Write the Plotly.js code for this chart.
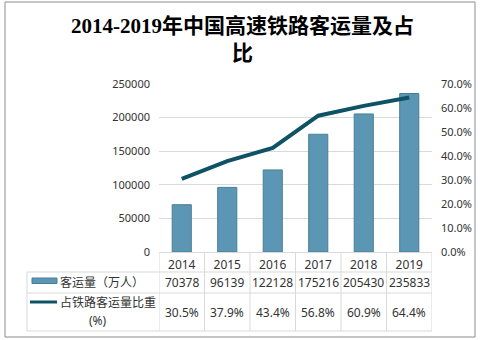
<!DOCTYPE html>
<html>
<head>
<meta charset="utf-8">
<script src="https://cdn.plot.ly/plotly-3.0.1.min.js"></script>
<style>html,body{margin:0;padding:0;background:#fff;}#chart{width:485px;height:340px;}</style>
</head>
<body>
<div id="chart"></div>
<script>
const years = ['2014', '2015', '2016', '2017', '2018', '2019'];
const volume = [70378, 96139, 122128, 175216, 205430, 235833];
const share = [30.5, 37.9, 43.4, 56.8, 60.9, 64.4];
const volumeName = '客运量（万人）';
const shareName = '占铁路客运量比重';
const shareUnit = '(%)';
const titleText = '2014-2019年中国高速铁路客运量及占<br>比';

const W = 485, H = 340;
const L = 159, R = 432, T = 84, B = 252;
const px = x => (x - L) / (R - L);
const py = y => (B - y) / (B - T);

const font = '"Noto Sans", "Noto Sans CJK SC", sans-serif';
const textColor = '#333333';
const gridColor = '#d9d9d9';
const barColor = '#5b97b4';
const barLine = '#4a7d96';
const lineColor = '#0e5266';

const traces = [
  {
    type: 'bar', x: years, y: volume, name: volumeName,
    marker: { color: barColor, line: { color: barLine, width: 1 } },
    hoverinfo: 'none'
  },
  {
    type: 'scatter', mode: 'lines', x: years, y: share, yaxis: 'y2', name: shareName,
    line: { color: lineColor, width: 4 },
    hoverinfo: 'none'
  }
];

const shapes = [];
const line = (x0, y0, x1, y1, xref, color, width) => ({
  type: 'line', xref: xref || 'paper', yref: 'paper', x0, y0, x1, y1,
  line: { color: color || gridColor, width: width || 1 }
});
// outer border
shapes.push({ type: 'rect', xref: 'paper', yref: 'paper', x0: px(5), x1: px(475), y0: py(2), y1: py(337),
  line: { color: '#8c8c8c', width: 1 }, fillcolor: 'rgba(0,0,0,0)' });
// table verticals at category boundaries
for (let i = 0; i <= years.length; i++) {
  shapes.push(line(i - 0.5, 0, i - 0.5, py(331), 'x'));
}
shapes.push(line(px(27), py(272), px(27), py(331)));
[272, 293, 331].forEach(y => shapes.push(line(px(27), py(y), 1, py(y))));
// legend swatches
shapes.push({ type: 'rect', xref: 'paper', yref: 'paper', x0: px(32), x1: px(57), y0: py(278), y1: py(283.5),
  fillcolor: barColor, line: { color: barLine, width: 1 } });
shapes.push(line(px(30), py(302), px(57), py(302), 'paper', lineColor, 3));

const ann = (x, y, text, xref, xanchor) => ({
  xref: xref || 'paper', yref: 'paper', x, y, text, xanchor: xanchor || 'center', yanchor: 'middle',
  showarrow: false, font: { family: font, size: 12, color: textColor }
});
const annotations = [];
years.forEach((yr, i) => {
  annotations.push(ann(i, py(282.5), String(volume[i]), 'x'));
  annotations.push(ann(i, py(312), share[i].toFixed(1) + '%', 'x'));
});
annotations.push(ann(px(58), py(282), volumeName, 'paper', 'left'));
annotations.push(ann(px(58), py(302), shareName, 'paper', 'left'));
annotations.push(ann(px(98), py(320), shareUnit, 'paper', 'center'));

const layout = {
  width: W, height: H,
  margin: { l: L, r: W - R, t: T, b: H - B },
  paper_bgcolor: '#fff', plot_bgcolor: '#fff',
  showlegend: false,
  bargap: 0.58,
  title: {
    text: '<b>' + titleText + '</b>',
    x: 0.5, xanchor: 'center', xref: 'container',
    y: 1 - 33 / H, yanchor: 'top', yref: 'container',
    font: { family: '"Liberation Serif", "Noto Sans CJK SC", serif', size: 21, color: '#000' }
  },
  xaxis: {
    type: 'category', range: [-0.5, years.length - 0.5], autorange: false,
    showgrid: false, showline: true, linecolor: gridColor, linewidth: 1,
    ticks: '', tickfont: { family: font, size: 12, color: textColor }, ticklabelstandoff: 2,
    zeroline: false
  },
  yaxis: {
    range: [0, 250000], autorange: false, dtick: 50000, showgrid: true, gridcolor: gridColor, gridwidth: 1,
    zeroline: false, showline: false, ticks: '', tickformat: 'd',
    tickfont: { family: font, size: 11, color: textColor }, ticklabelstandoff: 8
  },
  yaxis2: {
    overlaying: 'y', side: 'right', range: [0, 70], autorange: false, dtick: 10, showgrid: false,
    zeroline: false, showline: false, ticks: '', tickformat: '.1f', ticksuffix: '%',
    tickfont: { family: font, size: 11, color: textColor }, ticklabelstandoff: 8
  },
  shapes, annotations
};

Plotly.newPlot('chart', traces, layout, { staticPlot: true, displayModeBar: false });
</script>
</body>
</html>
